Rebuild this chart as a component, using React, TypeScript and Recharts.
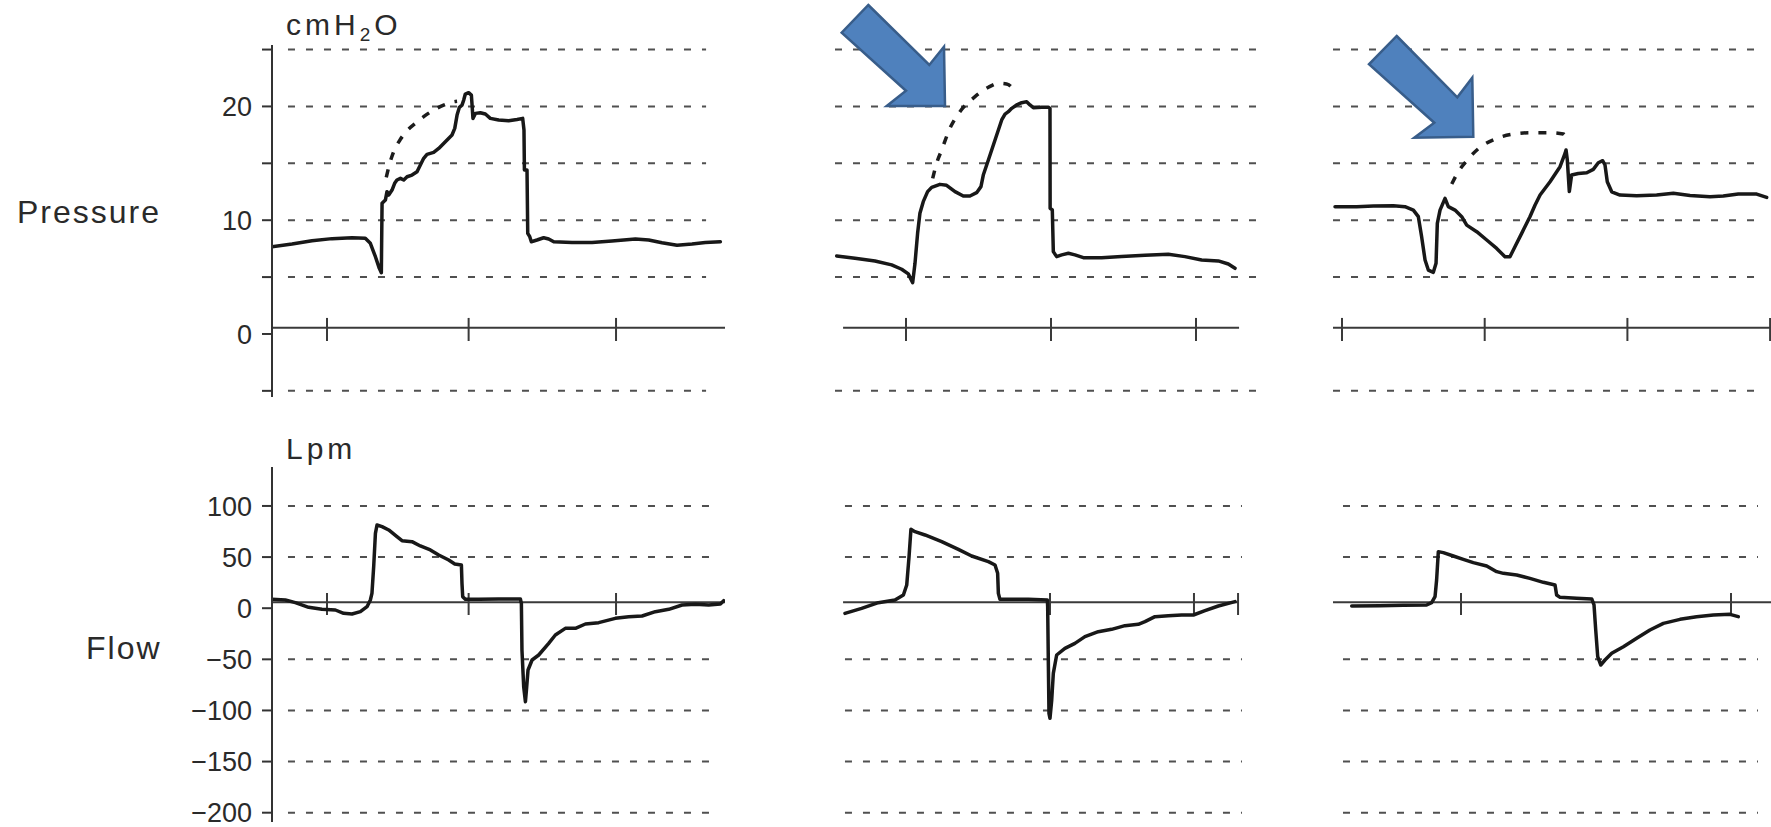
import React from "react";
import { LineChart, Line, XAxis, YAxis, ReferenceLine } from "recharts";

type Pt = [number, number];

const FONT = "'Liberation Sans', Arial, Helvetica, sans-serif";

// grid values
const PRESSURE_GRID = [25, 20, 15, 10, 5, -5];
const FLOW_GRID = [100, 50, -50, -100, -150, -200];
const PRESSURE_TICKS = [25, 20, 15, 10, 5, 0, -5];
const PRESSURE_LABELED = [20, 10, 0];
const FLOW_TICKS = [100, 50, 0, -50, -100, -150, -200];

// time ticks (s) on the zero lines
const P1_TIME_TICKS = [1, 1.98, 3];
const F1_TIME_TICKS = [1, 1.98, 3];
const P2_TIME_TICKS = [1, 2, 3];
const F2_TIME_TICKS = [1.993, 2.986, 3.29];
const P3_TIME_TICKS = [1, 2, 3, 4];
const F3_TIME_TICKS = [1.834, 3.726];

// waveforms: [time s, cmH2O]
const P1_SOLID: Pt[] = [
  [0.619, 7.67], [0.758, 7.91], [0.896, 8.2], [1.035, 8.38], [1.173, 8.46], [1.265, 8.41],
  [1.3, 7.97], [1.335, 6.79], [1.362, 5.77], [1.376, 5.39], [1.381, 11.48], [1.404, 11.77],
  [1.415, 12.51], [1.427, 12.21], [1.45, 12.65], [1.468, 13.24], [1.484, 13.53], [1.508, 13.68],
  [1.531, 13.53], [1.554, 13.82], [1.588, 13.97], [1.623, 14.26], [1.646, 14.85], [1.669, 15.44],
  [1.692, 15.79], [1.738, 15.96], [1.773, 16.31], [1.819, 16.9], [1.865, 17.49], [1.884, 18.07],
  [1.9, 19.24], [1.916, 19.92], [1.934, 20.12], [1.946, 20.56], [1.957, 21.09], [1.98, 21.21],
  [1.999, 21.0], [2.003, 20.27], [2.01, 18.95], [2.027, 19.39], [2.061, 19.45], [2.096, 19.33],
  [2.13, 18.95], [2.188, 18.8], [2.257, 18.75], [2.315, 18.86], [2.354, 18.95], [2.363, 17.93],
  [2.366, 14.41], [2.384, 14.41], [2.389, 8.85], [2.403, 8.55], [2.414, 8.11], [2.453, 8.26],
  [2.499, 8.46], [2.534, 8.35], [2.569, 8.11], [2.695, 8.05], [2.834, 8.05], [2.972, 8.17],
  [3.134, 8.35], [3.226, 8.26], [3.318, 8.02], [3.422, 7.79], [3.526, 7.91], [3.618, 8.05],
  [3.722, 8.11],
];
const P1_DOTTED: Pt[] = [
  [1.41, 13.77], [1.431, 14.85], [1.461, 16.02], [1.508, 17.11], [1.554, 17.87], [1.611, 18.51],
  [1.669, 19.1], [1.738, 19.68], [1.807, 20.12], [1.877, 20.41], [1.9, 20.45],
];

const P2_SOLID: Pt[] = [
  [0.522, 6.86], [0.648, 6.65], [0.786, 6.42], [0.901, 6.07], [0.97, 5.69], [1.016, 5.28],
  [1.046, 4.51], [1.062, 6.21], [1.08, 8.85], [1.096, 10.61], [1.119, 11.63], [1.149, 12.51],
  [1.177, 12.89], [1.234, 13.15], [1.28, 13.07], [1.338, 12.51], [1.395, 12.13], [1.441, 12.13],
  [1.487, 12.42], [1.517, 12.95], [1.533, 13.97], [1.568, 15.29], [1.614, 17.05], [1.66, 18.81],
  [1.683, 19.33], [1.706, 19.54], [1.729, 19.83], [1.763, 20.13], [1.798, 20.33], [1.832, 20.42],
  [1.855, 20.13], [1.878, 19.89], [1.936, 19.92], [1.982, 19.92], [1.993, 19.83], [1.994, 11.05],
  [2.009, 10.9], [2.016, 7.24], [2.039, 6.8], [2.074, 6.95], [2.12, 7.09], [2.165, 6.95],
  [2.223, 6.71], [2.349, 6.71], [2.487, 6.8], [2.648, 6.92], [2.809, 7.0], [2.924, 6.8],
  [3.039, 6.51], [3.154, 6.42], [3.223, 6.15], [3.269, 5.77],
];
const P2_DOTTED: Pt[] = [
  [1.184, 13.68], [1.211, 15.0], [1.246, 16.17], [1.303, 18.08], [1.372, 19.54], [1.476, 20.86],
  [1.568, 21.68], [1.637, 22.03], [1.694, 21.97], [1.733, 21.59], [1.752, 21.09],
];

const P3_SOLID: Pt[] = [
  [0.951, 11.19], [1.103, 11.19], [1.22, 11.24], [1.36, 11.27], [1.441, 11.19], [1.5, 10.89],
  [1.535, 10.31], [1.558, 8.55], [1.582, 6.5], [1.605, 5.62], [1.64, 5.42], [1.659, 6.21],
  [1.668, 9.72], [1.687, 10.89], [1.722, 11.92], [1.745, 11.19], [1.792, 10.89], [1.839, 10.31],
  [1.874, 9.57], [1.944, 8.99], [2.014, 8.26], [2.084, 7.52], [2.142, 6.79], [2.177, 6.79],
  [2.212, 7.67], [2.259, 8.84], [2.317, 10.31], [2.353, 11.33], [2.388, 12.21], [2.458, 13.38],
  [2.528, 14.7], [2.563, 15.87], [2.57, 16.17], [2.579, 15.29], [2.593, 12.52], [2.609, 13.97],
  [2.656, 14.11], [2.715, 14.17], [2.761, 14.47], [2.796, 15.05], [2.827, 15.23], [2.843, 14.85],
  [2.859, 13.38], [2.89, 12.5], [2.948, 12.21], [3.065, 12.15], [3.205, 12.21], [3.322, 12.36],
  [3.439, 12.18], [3.579, 12.06], [3.672, 12.12], [3.777, 12.3], [3.906, 12.3], [3.976, 12.01],
];
const P3_DOTTED: Pt[] = [
  [1.769, 13.18], [1.815, 14.26], [1.874, 15.23], [1.967, 16.4], [2.084, 17.19], [2.201, 17.57],
  [2.317, 17.69], [2.458, 17.69], [2.551, 17.57], [2.579, 17.04],
];

// waveforms: [time s, Lpm]
const F1_SOLID: Pt[] = [
  [0.619, 8.68], [0.712, 8.02], [0.781, 5.42], [0.873, 0.86], [0.965, -1.1], [1.058, -1.76],
  [1.115, -5.02], [1.173, -5.67], [1.231, -3.39], [1.277, 1.51], [1.3, 8.02], [1.311, 14.55],
  [1.323, 40.63], [1.335, 73.24], [1.346, 81.39], [1.381, 79.76], [1.427, 76.5], [1.484, 69.97],
  [1.519, 66.06], [1.588, 65.08], [1.646, 60.84], [1.715, 56.93], [1.773, 52.04], [1.842, 47.15],
  [1.884, 43.24], [1.93, 42.26], [1.934, 24.33], [1.939, 11.28], [1.957, 8.68], [2.05, 8.68],
  [2.188, 9.0], [2.338, 9.0], [2.345, 4.76], [2.349, -40.88], [2.361, -76.75], [2.373, -91.42],
  [2.38, -80.01], [2.391, -60.44], [2.419, -50.66], [2.465, -45.77], [2.534, -34.37], [2.58, -26.21],
  [2.649, -19.69], [2.719, -19.69], [2.788, -15.45], [2.88, -14.15], [2.995, -9.91], [3.088, -8.28],
  [3.18, -7.63], [3.272, -3.39], [3.365, -1.1], [3.457, 3.13], [3.549, 3.78], [3.641, 3.13],
  [3.722, 4.11], [3.745, 7.37],
];
const F2_SOLID: Pt[] = [
  [0.579, -5.02], [0.694, -0.13], [0.809, 5.42], [0.924, 8.02], [0.982, 12.95], [1.005, 22.7],
  [1.021, 50.41], [1.034, 77.15], [1.062, 74.87], [1.131, 71.6], [1.246, 65.08], [1.361, 57.58],
  [1.453, 51.06], [1.568, 45.52], [1.614, 42.26], [1.632, 34.11], [1.637, 14.55], [1.648, 8.68],
  [1.706, 8.68], [1.844, 8.68], [1.975, 8.02], [1.977, 1.51], [1.982, -57.18], [1.986, -102.8],
  [1.993, -107.7], [2.005, -89.8], [2.016, -63.7], [2.039, -45.77], [2.096, -39.25], [2.165, -34.36],
  [2.234, -27.84], [2.326, -22.95], [2.418, -20.67], [2.51, -17.08], [2.602, -15.78], [2.648, -13.17],
  [2.717, -8.28], [2.809, -7.3], [2.901, -6.65], [2.982, -6.65], [3.062, -2.41], [3.154, 2.15],
  [3.269, 6.4],
];
const F3_SOLID: Pt[] = [
  [1.068, 2.16], [1.266, 2.49], [1.43, 2.81], [1.593, 3.14], [1.628, 5.42], [1.652, 11.29],
  [1.663, 27.59], [1.675, 55.31], [1.71, 54.33], [1.78, 51.07], [1.85, 47.81], [1.92, 44.54],
  [2.014, 41.28], [2.084, 35.74], [2.131, 34.11], [2.224, 32.48], [2.317, 29.22], [2.411, 25.31],
  [2.493, 22.7], [2.504, 12.92], [2.528, 10.64], [2.644, 9.66], [2.75, 9.01], [2.766, 3.14],
  [2.778, -21.32], [2.792, -47.4], [2.813, -55.55], [2.843, -50.66], [2.89, -44.14], [2.972, -37.62],
  [3.065, -29.47], [3.158, -21.32], [3.252, -14.8], [3.369, -10.88], [3.485, -8.28], [3.602, -6.65],
  [3.719, -6.0], [3.777, -8.28],
];

const PRESSURE_DOMAIN: [number, number] = [-5.54, 25.4];
const FLOW_DOMAIN: [number, number] = [-209.1, 138.1];

interface PanelProps {
  left: number;
  top: number;
  width: number;
  height: number;
  xDomain: [number, number];
  yDomain: [number, number];
  solid: Pt[];
  dotted?: Pt[];
  grid: number[];
  gridSpan: [number, number];
  zero: number;
  zeroSpan: [number, number];
  ticks: number[];
  tickSpan: [number, number];
  axis?: "pressure" | "flow";
}

const rows = (pts: Pt[]) => pts.map(([t, v]) => ({ t, v }));
const minus = (v: number) => (v < 0 ? "\u2212" + Math.abs(v) : String(v));

// extra room above/below the plot so tick labels are not cut
const PAD = 10;

function Panel(p: PanelProps) {
  const axisW = p.axis ? 90 : 0;
  return (
    <div style={{ position: "absolute", left: p.left - axisW, top: p.top - PAD }}>
      <LineChart
        width={p.width + axisW}
        height={p.height + PAD * 2}
        margin={{ top: PAD, right: 0, bottom: PAD, left: 0 }}
      >
        <XAxis type="number" dataKey="t" domain={p.xDomain} allowDataOverflow hide />
        {p.axis ? (
          <YAxis
            type="number"
            domain={p.yDomain}
            allowDataOverflow
            width={axisW}
            ticks={p.axis === "pressure" ? PRESSURE_TICKS : FLOW_TICKS}
            interval={0}
            tickFormatter={(v: number) =>
              p.axis === "pressure" && !PRESSURE_LABELED.includes(v) ? "" : minus(v)
            }
            tickSize={10}
            tickMargin={10}
            axisLine={{ stroke: "#333", strokeWidth: 2 }}
            tickLine={{ stroke: "#333", strokeWidth: 2 }}
            tick={{ fill: "#2a2a2a", fontSize: 27, fontFamily: FONT }}
          />
        ) : (
          <YAxis type="number" domain={p.yDomain} allowDataOverflow hide />
        )}

        {p.grid.map((v) => (
          <ReferenceLine
            key={"g" + v}
            segment={[{ x: p.gridSpan[0], y: v }, { x: p.gridSpan[1], y: v }]}
            stroke="#505050"
            strokeWidth={2}
            strokeDasharray="7 11"
            ifOverflow="visible"
          />
        ))}
        <ReferenceLine
          segment={[{ x: p.zeroSpan[0], y: p.zero }, { x: p.zeroSpan[1], y: p.zero }]}
          stroke="#3a3a3a"
          strokeWidth={2}
          ifOverflow="visible"
        />
        {p.ticks.map((t) => (
          <ReferenceLine
            key={"t" + t}
            segment={[{ x: t, y: p.tickSpan[0] }, { x: t, y: p.tickSpan[1] }]}
            stroke="#3a3a3a"
            strokeWidth={2}
            ifOverflow="visible"
          />
        ))}

        {p.dotted && (
          <Line
            data={rows(p.dotted)}
            dataKey="v"
            type="monotone"
            stroke="#1c1c1c"
            strokeWidth={3.5}
            strokeDasharray="8 10"
            dot={false}
            isAnimationActive={false}
          />
        )}
        <Line
          data={rows(p.solid)}
          dataKey="v"
          type="linear"
          stroke="#181818"
          strokeWidth={3.5}
          strokeLinejoin="round"
          strokeLinecap="round"
          dot={false}
          isAnimationActive={false}
        />
      </LineChart>
    </div>
  );
}

const P_TICK_SPAN: [number, number] = [1.41, -0.62];
const F_TICK_SPAN: [number, number] = [14.87, -6.65];

export default function App() {
  const label = { fontFamily: FONT, fill: "#2a2a2a" };
  return (
    <div
      style={{
        position: "absolute",
        left: 0,
        top: 0,
        width: 1771,
        height: 827,
        background: "#fff",
        overflow: "hidden",
      }}
    >
      <Panel
        left={272} top={45} width={453} height={352}
        xDomain={[0.6194, 3.754]} yDomain={PRESSURE_DOMAIN}
        solid={P1_SOLID} dotted={P1_DOTTED}
        grid={PRESSURE_GRID} gridSpan={[0.73, 3.623]}
        zero={0.55} zeroSpan={[0.6194, 3.754]}
        ticks={P1_TIME_TICKS} tickSpan={P_TICK_SPAN}
        axis="pressure"
      />
      <Panel
        left={272} top={467} width={453} height={355}
        xDomain={[0.6194, 3.754]} yDomain={FLOW_DOMAIN}
        solid={F1_SOLID}
        grid={FLOW_GRID} gridSpan={[0.73, 3.699]}
        zero={5.8} zeroSpan={[0.6194, 3.754]}
        ticks={F1_TIME_TICKS} tickSpan={F_TICK_SPAN}
        axis="flow"
      />
      <Panel
        left={835} top={45} width={430} height={352}
        xDomain={[0.5103, 3.4759]} yDomain={PRESSURE_DOMAIN}
        solid={P2_SOLID} dotted={P2_DOTTED}
        grid={PRESSURE_GRID} gridSpan={[0.5103, 3.4759]}
        zero={0.55} zeroSpan={[0.566, 3.297]}
        ticks={P2_TIME_TICKS} tickSpan={P_TICK_SPAN}
      />
      <Panel
        left={835} top={467} width={430} height={355}
        xDomain={[0.5103, 3.4759]} yDomain={FLOW_DOMAIN}
        solid={F2_SOLID}
        grid={FLOW_GRID} gridSpan={[0.579, 3.317]}
        zero={5.8} zeroSpan={[0.566, 3.29]}
        ticks={F2_TIME_TICKS} tickSpan={F_TICK_SPAN}
      />
      <Panel
        left={1330} top={45} width={441} height={352}
        xDomain={[0.9159, 4.0063]} yDomain={PRESSURE_DOMAIN}
        solid={P3_SOLID} dotted={P3_DOTTED}
        grid={PRESSURE_GRID} gridSpan={[0.937, 3.964]}
        zero={0.55} zeroSpan={[0.937, 4.0063]}
        ticks={P3_TIME_TICKS} tickSpan={P_TICK_SPAN}
      />
      <Panel
        left={1330} top={467} width={441} height={355}
        xDomain={[0.9159, 4.0063]} yDomain={FLOW_DOMAIN}
        solid={F3_SOLID}
        grid={FLOW_GRID} gridSpan={[1.007, 3.915]}
        zero={5.8} zeroSpan={[0.937, 4.0063]}
        ticks={F3_TIME_TICKS} tickSpan={F_TICK_SPAN}
      />

      <svg
        width={1771}
        height={827}
        style={{ position: "absolute", left: 0, top: 0, pointerEvents: "none" }}
      >
        <text x={17} y={223} fontSize={32} letterSpacing={2} {...label}>Pressure</text>
        <text x={86} y={659} fontSize={32} letterSpacing={2} {...label}>Flow</text>
        <text x={286} y={35} fontSize={30} letterSpacing={4} {...label}>
          cmH<tspan fontSize={19} dy={6}>2</tspan>
          <tspan dy={-6}>O</tspan>
        </text>
        <text x={286} y={459} fontSize={30} letterSpacing={4} {...label}>Lpm</text>

        {/* annotation arrows */}
        <polygon
          points="868.3,5 929.3,65 944,46.7 945,106 886.7,106 906,90.7 841.7,32.7"
          fill="#4f81bd"
          stroke="#385d8a"
          strokeWidth={2.5}
          strokeLinejoin="miter"
        />
        <polygon
          points="1396.7,36 1457.3,97.3 1472.3,77.7 1473.3,136.7 1414.3,137.7 1434.3,122.7 1369,64.3"
          fill="#4f81bd"
          stroke="#385d8a"
          strokeWidth={2.5}
          strokeLinejoin="miter"
        />
      </svg>
    </div>
  );
}
